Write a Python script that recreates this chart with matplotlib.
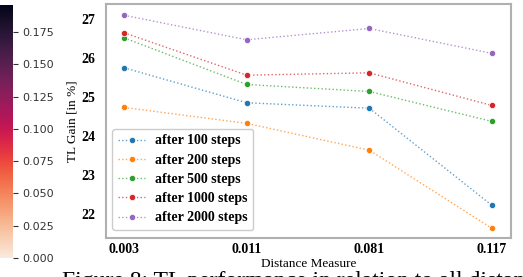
import numpy as np
import matplotlib
matplotlib.use("Agg")
import matplotlib.pyplot as plt
import matplotlib.colors as mcolors
import seaborn as sns

# data
distances = ["0.003", "0.011", "0.081", "0.117"]
labels = ["after 100 steps", "after 200 steps", "after 500 steps",
          "after 1000 steps", "after 2000 steps"]
gain_100 = [25.75, 24.85, 24.71, 22.21]
gain_200 = [24.73, 24.32, 23.63, 21.62]
gain_500 = [26.52, 25.32, 25.14, 24.37]
gain_1000 = [26.65, 25.56, 25.62, 24.78]
gain_2000 = [27.10, 26.47, 26.76, 26.12]
series = [gain_100, gain_200, gain_500, gain_1000, gain_2000]
cbar_ticks = [0.0, 0.025, 0.05, 0.075, 0.1, 0.125, 0.15, 0.175]

W, H = 523, 277
fig = plt.figure(figsize=(W / 100, H / 100), dpi=100)

# colorbar strip on the left
cax = fig.add_axes([0, 1 - 258 / H, 13 / W, 253 / H])
cmap = sns.color_palette("rocket_r", as_cmap=True)
norm = mcolors.Normalize(vmin=0, vmax=0.196)
cb = fig.colorbar(matplotlib.cm.ScalarMappable(norm=norm, cmap=cmap), cax=cax)
cb.outline.set_visible(False)
cb.set_ticks(cbar_ticks)
cb.set_ticklabels(["%.3f" % t for t in cbar_ticks])
cax.tick_params(labelsize=8, colors="#333333", length=3.5, width=0.8, pad=3)

# main axes
ax = fig.add_axes([106 / W, 1 - 237.7 / H, 405 / W, 233.7 / H])
x = np.arange(len(distances))
colors = plt.get_cmap("tab10").colors
for vals, lab, c in zip(series, labels, colors):
    ax.plot(x, vals, linestyle=":", linewidth=1.0, color=mcolors.to_rgba(c, 0.7),
            marker="o", markersize=4.5, markerfacecolor=c,
            markeredgecolor="white", markeredgewidth=0.5, label=lab)

ax.set_xlim(-0.147, 3.155)
ax.set_ylim(21.38, 27.39)
ax.set_xticks(x)
ax.set_xticklabels(distances)
ax.set_yticks([22, 23, 24, 25, 26, 27])
for t in ax.get_xticklabels() + ax.get_yticklabels():
    t.set_fontfamily("Liberation Serif")
    t.set_fontweight("bold")
    t.set_fontsize(10)
ax.tick_params(axis="x", length=0, pad=4)
ax.tick_params(axis="y", length=0, pad=8)
for s in ax.spines.values():
    s.set_color("#b0b0b0")
    s.set_linewidth(1.5)

ax.set_xlabel("Distance Measure", fontfamily="Liberation Serif", fontsize=9.5, labelpad=1)
ax.set_ylabel("TL Gain [in %]", fontfamily="Liberation Serif", fontsize=9.5, labelpad=2)

leg = ax.legend(loc="lower left", bbox_to_anchor=(0.015, 0.033), borderaxespad=0,
                prop={"family": "Liberation Serif", "weight": "bold", "size": 10},
                labelspacing=0.45, handlelength=2.0, handletextpad=0.7,
                framealpha=1.0, edgecolor="#cccccc")

# caption, mostly cut off at the bottom edge
fig.text(62 / W, 1 - 287 / H, "Figure 8: TL performance in relation to all distances",
         fontfamily="Liberation Serif", fontsize=17, va="baseline", ha="left")

fig.savefig("out.png", dpi=100)
